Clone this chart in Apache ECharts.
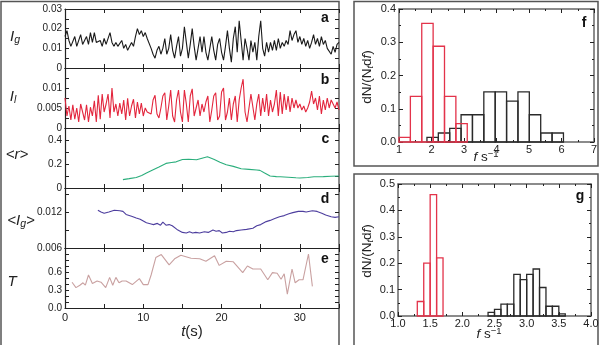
<!DOCTYPE html>
<html>
<head>
<meta charset="utf-8">
<script src="https://cdn.jsdelivr.net/npm/echarts@6/dist/echarts.min.js"></script>
<style>html,body{margin:0;padding:0;background:#fff}#chart{width:600px;height:345px}</style>
</head>
<body>
<div id="chart"></div>
<script>
// time series, sampled every 0.25 s (panels a, b)
const fastStep = 0.25;
const igValues = [
  0.016, 0.019, 0.014, 0.011, 0.012, 0.016, 0.011, 0.012, 0.017, 0.012,
  0.014, 0.016, 0.012, 0.018, 0.013, 0.018, 0.013, 0.012, 0.014, 0.011,
  0.015, 0.012, 0.013, 0.018, 0.013, 0.011, 0.013, 0.011, 0.012, 0.014,
  0.010, 0.012, 0.009, 0.008, 0.013, 0.011, 0.016, 0.020, 0.017, 0.019,
  0.016, 0.018, 0.015, 0.016, 0.010, 0.007, 0.005, 0.009, 0.011, 0.007,
  0.010, 0.015, 0.007, 0.010, 0.017, 0.009, 0.005, 0.011, 0.016, 0.006,
  0.010, 0.021, 0.013, 0.005, 0.012, 0.020, 0.011, 0.004, 0.010, 0.016,
  0.008, 0.016, 0.008, 0.004, 0.010, 0.016, 0.009, 0.004, 0.012, 0.015,
  0.008, 0.004, 0.011, 0.019, 0.010, 0.003, 0.015, 0.021, 0.008, 0.024,
  0.014, 0.004, 0.015, 0.010, 0.004, 0.014, 0.008, 0.013, 0.004, 0.016,
  0.024, 0.010, 0.006, 0.013, 0.008, 0.013, 0.009, 0.014, 0.009, 0.015,
  0.010, 0.013, 0.011, 0.014, 0.012, 0.019, 0.014, 0.017, 0.019, 0.013,
  0.016, 0.012, 0.015, 0.011, 0.014, 0.010, 0.013, 0.017, 0.012, 0.015,
  0.011, 0.016, 0.012, 0.014, 0.010, 0.009, 0.007, 0.011, 0.008, 0.012,
  0.013
];
const ilValues = [
  0.0075, 0.0030, 0.0055, 0.0020, 0.0058, 0.0022, 0.0050, 0.0015, 0.0060, 0.0064,
  0.0020, 0.0058, 0.0015, 0.0052, 0.0030, 0.0068, 0.0015, 0.0082, 0.0022, 0.0085,
  0.0040, 0.0060, 0.0085, 0.0025, 0.0100, 0.0040, 0.0060, 0.0030, 0.0062, 0.0035,
  0.0070, 0.0020, 0.0074, 0.0030, 0.0055, 0.0072, 0.0025, 0.0065, 0.0035, 0.0062,
  0.0030, 0.0050, 0.0040, 0.0045, 0.0035, 0.0070, 0.0082, 0.0035, 0.0025, 0.0050,
  0.0080, 0.0088, 0.0020, 0.0055, 0.0095, 0.0030, 0.0015, 0.0070, 0.0095, 0.0040,
  0.0015, 0.0095, 0.0060, 0.0015, 0.0080, 0.0098, 0.0030, 0.0050, 0.0070, 0.0030,
  0.0060, 0.0040, 0.0065, 0.0080, 0.0015, 0.0045, 0.0080, 0.0088, 0.0020, 0.0030,
  0.0090, 0.0100, 0.0020, 0.0040, 0.0075, 0.0020, 0.0060, 0.0080, 0.0015, 0.0070,
  0.0100, 0.0122, 0.0040, 0.0015, 0.0050, 0.0085, 0.0090, 0.0020, 0.0060, 0.0085,
  0.0030, 0.0075, 0.0040, 0.0085, 0.0030, 0.0070, 0.0040, 0.0060, 0.0095, 0.0030,
  0.0090, 0.0035, 0.0085, 0.0045, 0.0080, 0.0040, 0.0075, 0.0050, 0.0070, 0.0050,
  0.0060, 0.0045, 0.0055, 0.0040, 0.0050, 0.0065, 0.0092, 0.0060, 0.0075, 0.0045,
  0.0080, 0.0035, 0.0070, 0.0045, 0.0075, 0.0050, 0.0070, 0.0060, 0.0050, 0.0065,
  0.0045
];

// panel c: <r>
const rTimes = [7.4, 8.2, 9.1, 9.8, 10.4, 11.2, 12.0, 12.9, 13.6, 14.2, 15.0, 15.8, 16.8, 17.5, 18.2,
  19.0, 19.8, 20.6, 21.5, 22.5, 23.5, 24.5, 24.9, 25.5, 26.2, 27.0, 27.5, 28.5, 29.5, 30.0, 31.0,
  31.8, 33.0, 34.0, 35.0];
const rValues = [0.070, 0.078, 0.088, 0.105, 0.125, 0.150, 0.175, 0.205, 0.212, 0.218, 0.238, 0.240,
  0.236, 0.248, 0.260, 0.240, 0.215, 0.194, 0.180, 0.160, 0.155, 0.150, 0.147, 0.125, 0.100, 0.095,
  0.094, 0.090, 0.085, 0.083, 0.088, 0.094, 0.095, 0.098, 0.100];

// panel d: <I_g>
const igMeanTimes = [4.2, 4.6, 5.0, 5.6, 6.3, 7.0, 7.4, 7.8, 8.5, 9.1, 9.6, 10.4, 11.0, 11.3, 11.8,
  12.2, 12.5, 12.9, 13.3, 13.7, 14.3, 15.0, 15.5, 15.9, 16.3, 16.7, 17.2, 17.8, 18.3, 18.9, 19.3,
  19.7, 20.1, 20.6, 21.0, 21.5, 21.9, 22.5, 23.2, 24.0, 24.5, 25.0, 25.7, 26.2, 26.8, 27.4, 28.0,
  28.6, 29.1, 29.8, 30.4, 30.8, 31.6, 32.2, 32.8, 33.3, 34.0, 34.5, 35.0];
const igMeanValues = [0.0123, 0.0120, 0.0118, 0.0120, 0.0123, 0.0122, 0.0121, 0.0116, 0.0113,
  0.0110, 0.0108, 0.0102, 0.0100, 0.0099, 0.0101, 0.0098, 0.0103, 0.0098, 0.0099, 0.0097, 0.0091,
  0.0086, 0.0085, 0.0087, 0.0085, 0.0086, 0.0085, 0.0087, 0.0086, 0.0090, 0.0088, 0.0089, 0.0085,
  0.0086, 0.0088, 0.0087, 0.0089, 0.0090, 0.0091, 0.0093, 0.0097, 0.0099, 0.0104, 0.0106, 0.0109,
  0.0112, 0.0114, 0.0117, 0.0119, 0.0121, 0.0121, 0.0120, 0.0122, 0.0121, 0.0118, 0.0115, 0.0112,
  0.0111, 0.0112];

// panel e: T
const tTimes = [0.9, 1.4, 1.9, 2.3, 2.6, 3.0, 3.5, 4.1, 4.6, 5.2, 5.7, 6.1, 6.5, 6.9, 7.3, 7.8, 8.6,
  9.5, 10.0, 10.6, 11.0, 11.6, 12.3, 13.3, 14.0, 14.8, 16.1, 17.2, 18.0, 19.1, 19.7, 20.6, 21.5,
  22.7, 23.3, 24.0, 25.0, 25.9, 26.5, 27.1, 27.6, 28.0, 28.4, 29.0, 29.4, 29.9, 30.4, 31.1, 31.6];
const tValues = [0.43, 0.34, 0.38, 0.42, 0.38, 0.55, 0.41, 0.45, 0.43, 0.34, 0.51, 0.38, 0.51, 0.42,
  0.45, 0.45, 0.39, 0.49, 0.39, 0.39, 0.55, 0.84, 0.89, 0.72, 0.82, 0.88, 0.83, 0.82, 0.78, 0.87,
  0.71, 0.78, 0.77, 0.59, 0.70, 0.65, 0.65, 0.47, 0.59, 0.58, 0.48, 0.57, 0.23, 0.65, 0.42, 0.47,
  0.47, 0.90, 0.36];

// histograms: bin edges and heights
const fRedEdges = [1.0, 1.35, 1.7, 2.05, 2.4, 2.75, 3.1];
const fRedValues = [0.014, 0.137, 0.357, 0.288, 0.137, 0.055];
const fBlackEdges = [1.86, 2.21, 2.56, 2.91, 3.26, 3.61, 3.96, 4.31, 4.66, 5.01, 5.36, 5.71, 6.06];
const fBlackValues = [0.014, 0.027, 0.041, 0.082, 0.082, 0.151, 0.151, 0.123, 0.151, 0.082, 0.027, 0.027];
const gRedEdges = [1.3, 1.4, 1.5, 1.6, 1.7];
const gRedValues = [0.055, 0.2, 0.46, 0.22];
const gBlackEdges = [2.4, 2.5, 2.6, 2.7, 2.8, 2.9, 3.0, 3.1, 3.2, 3.3, 3.4, 3.5, 3.6];
const gBlackValues = [0.014, 0.025, 0.045, 0.045, 0.158, 0.138, 0.158, 0.178, 0.108, 0.037, 0.037, 0.008];

// tick labels
const timeTickLabels = ['0', '10', '20', '30'];
const igTickLabels = ['0', '0.01', '0.02', '0.03'];
const ilTickLabels = ['0', '0.005', '0.01'];
const rTickLabels = ['0', '0.2', '0.4'];
const igMeanTickLabels = ['0.006', '0.012'];
const tTickLabels = ['0.0', '0.3', '0.6'];
const fXTickLabels = ['1', '2', '3', '4', '5', '6', '7'];
const fYTickLabels = ['0.0', '0.1', '0.2', '0.3', '0.4'];
const gXTickLabels = ['1.0', '1.5', '2.0', '2.5', '3.0', '3.5', '4.0'];
const gYTickLabels = ['0.0', '0.1', '0.2', '0.3', '0.4', '0.5'];

const F = '"Liberation Sans", Arial, Helvetica, sans-serif';
const INK = '#222';
const BOX = '#666';

function pick(list) {
  return function (v) {
    const hit = list.find(s => Math.abs(parseFloat(s) - v) < 1e-9);
    return hit === undefined ? '' : hit;
  };
}

// left stacked panels
const panels = [
  {top: 9, height: 59, min: 0, max: 0.03, interval: 0.005, labels: igTickLabels, color: '#1a1a1a',
    data: igValues.map((v, i) => [i * fastStep, v])},
  {top: 68, height: 60, min: 0, max: 0.015, interval: 0.0025, labels: ilTickLabels, color: '#e3263d',
    data: ilValues.map((v, i) => [i * fastStep, v])},
  {top: 128, height: 60, min: 0, max: 0.5, interval: 0.1, labels: rTickLabels, color: '#2bae7c',
    data: rTimes.map((t, i) => [t, rValues[i]])},
  {top: 188, height: 60, min: 0.006, max: 0.016, interval: 0.003, labels: igMeanTickLabels, color: '#4d3e9e',
    data: igMeanTimes.map((t, i) => [t, igMeanValues[i]])},
  {top: 248, height: 60, min: 0, max: 1.0, interval: 0.1, labels: tTickLabels, color: '#c9a1a1',
    data: tTimes.map((t, i) => [t, tValues[i]])}
];

const grid = [], xAxis = [], yAxis = [], series = [];

function tickAxis(gi, position, range, labels, opts) {
  return {
    type: 'value', gridIndex: gi, position: position,
    min: range[0], max: range[1], interval: range[2],
    axisLine: {show: true, onZero: false, lineStyle: {color: opts.lineColor || INK, width: opts.lineWidth || 1.2}},
    axisTick: {show: true, inside: true, length: 4, lineStyle: {color: INK, width: 1}},
    minorTick: opts.minor ? {show: true, splitNumber: 2, length: 2, lineStyle: {color: INK}} : {show: false},
    axisLabel: {show: !!opts.showLabels, formatter: pick(labels), fontSize: opts.fontSize || 10,
      color: INK, fontFamily: F, margin: opts.margin || 3, showMinLabel: true, showMaxLabel: true},
    splitLine: {show: false}
  };
}

panels.forEach((p, i) => {
  grid.push({left: 65, right: 261, top: p.top, height: p.height, outerBoundsMode: 'none'});
  const last = i === panels.length - 1;
  xAxis.push(tickAxis(i, 'bottom', [0, 35, 5], timeTickLabels, {showLabels: last, fontSize: 11, margin: 4}));
  xAxis.push(tickAxis(i, 'top', [0, 35, 5], timeTickLabels, {}));
  yAxis.push(tickAxis(i, 'left', [p.min, p.max, p.interval], p.labels, {showLabels: true}));
  yAxis.push(tickAxis(i, 'right', [p.min, p.max, p.interval], p.labels, {lineColor: '#888', lineWidth: 2}));
  series.push({
    type: 'line', xAxisIndex: 2 * i, yAxisIndex: 2 * i, data: p.data,
    showSymbol: false, symbol: 'none', lineStyle: {color: p.color, width: 1.1}
  });
});

// right histogram panels
const hists = [
  {left: 399, right: 6, top: 9, height: 133, x: [1, 7, 1], y: [0, 0.4, 0.1],
    xl: fXTickLabels, yl: fYTickLabels,
    bars: [[fBlackEdges, fBlackValues, '#2a2a2a'], [fRedEdges, fRedValues, '#e3334a']]},
  {left: 398, right: 9, top: 184, height: 132, x: [1, 4, 0.5], y: [0, 0.5, 0.1],
    xl: gXTickLabels, yl: gYTickLabels,
    bars: [[gBlackEdges, gBlackValues, '#2a2a2a'], [gRedEdges, gRedValues, '#e3334a']]}
];

hists.forEach((h, k) => {
  const gi = panels.length + k;
  grid.push({left: h.left, right: h.right, top: h.top, height: h.height, outerBoundsMode: 'none'});
  const xi = xAxis.length, yi = yAxis.length;
  const o = {lineColor: BOX, lineWidth: 1.5, minor: true};
  xAxis.push(tickAxis(gi, 'bottom', h.x, h.xl, Object.assign({showLabels: true, fontSize: 11, margin: 2}, o)));
  xAxis.push(tickAxis(gi, 'top', h.x, h.xl, o));
  yAxis.push(tickAxis(gi, 'left', h.y, h.yl, Object.assign({showLabels: true, fontSize: 11, margin: 3}, o)));
  yAxis.push(tickAxis(gi, 'right', h.y, h.yl, o));
  h.bars.forEach(([edges, values, color]) => {
    series.push({
      type: 'custom', xAxisIndex: xi, yAxisIndex: yi,
      data: values.map((v, i) => [edges[i], edges[i + 1], v]),
      encode: {x: [0, 1], y: 2},
      renderItem: function (params, api) {
        const p0 = api.coord([api.value(0), api.value(2)]);
        const p1 = api.coord([api.value(1), 0]);
        return {
          type: 'rect',
          shape: {x: p0[0], y: p0[1], width: p1[0] - p0[0], height: p1[1] - p0[1]},
          style: {fill: 'none', stroke: color, lineWidth: 1.3}
        };
      }
    });
  });
});

// text helpers
const rich = {
  i: {fontStyle: 'italic', fontSize: 15, fontFamily: F, lineHeight: 18, fill: INK},
  n: {fontSize: 15, fontFamily: F, lineHeight: 18, fill: INK},
  s: {fontStyle: 'italic', fontSize: 10.5, fontFamily: F, lineHeight: 8, verticalAlign: 'bottom', fill: INK},
  i2: {fontStyle: 'italic', fontSize: 13.5, fontFamily: F, lineHeight: 16, fill: INK},
  n2: {fontSize: 13.5, fontFamily: F, lineHeight: 16, fill: INK},
  s2: {fontStyle: 'italic', fontSize: 9.5, fontFamily: F, lineHeight: 7, verticalAlign: 'bottom', fill: INK},
  up: {fontSize: 9.5, fontFamily: F, lineHeight: 7, verticalAlign: 'top', fill: INK}
};
function txt(x, y, text, extra) {
  return Object.assign({
    type: 'text', x: x, y: y, z: 10,
    style: {text: text, rich: rich, fill: INK, font: '14px ' + F, align: 'center', verticalAlign: 'middle'}
  }, extra || {});
}
function letter(x, y, s) {
  return {type: 'text', x: x, y: y, z: 10,
    style: {text: s, fill: '#111', font: 'bold 14px ' + F, align: 'center', verticalAlign: 'middle'}};
}

const graphic = [
  {type: 'rect', shape: {x: 1, y: 1.5, width: 338, height: 350}, style: {fill: 'none', stroke: '#555', lineWidth: 1.5}},
  {type: 'rect', shape: {x: 354, y: 1.5, width: 244, height: 164.5}, style: {fill: 'none', stroke: '#555', lineWidth: 1.5}},
  {type: 'rect', shape: {x: 354, y: 174, width: 244, height: 180}, style: {fill: 'none', stroke: '#555', lineWidth: 1.5}},
  txt(15, 37, '{i|I}{s|g}'),
  txt(13, 97, '{i|I}{s|l}'),
  txt(17, 155, '{i|<r>}'),
  txt(21, 221, '{i|<I}{s|g}{i|>}'),
  txt(12, 282, '{i|T}'),
  txt(192, 332, '{i|t}{n|(s)}'),
  txt(486, 157, '{i2|f}{n2| s}{up|\u22121}'),
  txt(489, 334, '{i2|f}{n2| s}{up|\u22121}'),
  txt(367, 77, '{n2|dN/(N}{s2|t}{n2|d}{i2|f}{n2|)}', {rotation: Math.PI / 2}),
  txt(367, 251, '{n2|dN/(N}{s2|t}{n2|d}{i2|f}{n2|)}', {rotation: Math.PI / 2}),
  letter(325, 18.5, 'a'), letter(325, 80, 'b'), letter(325.5, 139, 'c'),
  letter(325, 199, 'd'), letter(325, 259, 'e'), letter(584, 23, 'f'), letter(580, 196, 'g')
];

const chart = echarts.init(document.getElementById('chart'), null, {renderer: 'canvas'});
chart.setOption({
  animation: false,
  backgroundColor: '#fff',
  textStyle: {fontFamily: F},
  grid: grid, xAxis: xAxis, yAxis: yAxis, series: series, graphic: graphic
});
</script>
</body>
</html>
